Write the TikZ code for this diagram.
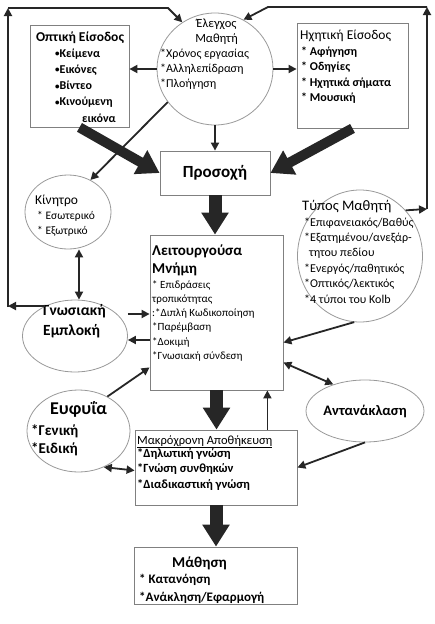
\documentclass[tikz,border=0pt]{standalone}
\usepackage{fontspec}
\setmainfont{Carlito}
\usetikzlibrary{arrows.meta,shapes.geometric}
\newcommand{\setsize}[2]{\fontsize{#1}{#2}\selectfont}
\newcommand{\dotmark}{{\setsize{9}{9}\raisebox{0.5pt}{•}}}

\begin{document}
\begin{tikzpicture}[x=1pt,y=-1pt,
	box/.style={draw=black!50,line width=0.8pt,inner sep=0pt},
	oval/.style={draw=black!40,line width=0.8pt,ellipse,inner sep=0pt},
	txt/.style={anchor=base west,inner sep=0pt,align=left},
	link/.style={-{Triangle[length=8pt,width=8pt]},line width=1.8pt,draw=black!85},
	twoway/.style={{Triangle[length=8pt,width=8pt]}-{Triangle[length=8pt,width=8pt]},line width=1.8pt,draw=black!85},
	fat/.style={-{Triangle[length=22pt,width=26pt]},line width=10pt,draw=black!85}]
	\fill[white] (0,0) rectangle (435,624);
	\useasboundingbox (0,0) rectangle (435,624);

	% shapes
	\node[box,minimum width=99pt,minimum height=102pt] (optic) at (79.5,76) {};
	\node[oval,minimum width=116pt,minimum height=112pt] (ctrl) at (215,69) {};
	\node[box,minimum width=111pt,minimum height=105pt] (audio) at (352.5,75.5) {};
	\node[box,minimum width=110pt,minimum height=44pt,font=\setsize{17}{20}\bfseries] (attn) at (215,173) {Προσοχή};
	\node[oval,minimum width=86pt,minimum height=74pt] (motive) at (68,212) {};
	\node[box,minimum width=133pt,minimum height=155pt] (wm) at (216.5,312.5) {};
	\node[oval,minimum width=125pt,minimum height=132pt] (ltype) at (360,256) {};
	\node[oval,minimum width=105pt,minimum height=72pt] (engage) at (75,336) {};
	\node[oval,minimum width=103pt,minimum height=82pt] (intel) at (78.5,431) {};
	\node[oval,minimum width=106pt,minimum height=62pt,font=\setsize{14.5}{17}\bfseries] (reflect) at (365,411) {Αντανάκλαση};
	\node[box,minimum width=162pt,minimum height=75pt] (ltm) at (216,467.5) {};
	\node[box,minimum width=163pt,minimum height=57pt] (learn) at (215.5,575.5) {};

	% texts (anchored at the baseline of their last line)
	\node[anchor=base,inner sep=0pt,font=\setsize{13.5}{16}\bfseries] (optictitle) at (80,41.5) {Οπτική Είσοδος};
	\node[txt,font=\setsize{12}{16.25}\bfseries] (opticlist) at (55,122) {\dotmark Κείμενα\\\dotmark Εικόνες\\\dotmark Βίντεο\\\dotmark Κινούμενη\\\hspace*{27pt}εικόνα};
	\node[anchor=base,inner sep=0pt,align=center,font=\setsize{12.5}{15}] (ctrltitle) at (216.5,42) {Έλεγχος\\Μαθητή};
	\node[txt,font=\setsize{12}{15}] (ctrllist) at (160,87) {*Χρόνος εργασίας\\*Αλληλεπίδραση\\*Πλοήγηση};
	\node[txt,font=\setsize{13.5}{16}] (audiotitle) at (300,39.5) {Ηχητική Είσοδος};
	\node[txt,font=\setsize{12}{15.5}\bfseries] (audiolist) at (301,101.5) {* Αφήγηση\\* Οδηγίες\\* Ηχητικά σήματα\\* Μουσική};
	\node[txt,font=\setsize{13.5}{15}] (motivetitle) at (35,204) {Κίνητρο};
	\node[txt,font=\setsize{11.5}{15}] (motivelist) at (37,234) {* Εσωτερικό\\* Εξωτρικό};
	\node[txt,font=\setsize{15}{18}\bfseries] (wmtitle) at (152,273) {Λειτουργούσα\\Μνήμη};
	\node[txt,font=\setsize{11}{14.3}] (wmlist) at (152,359.5) {* Επιδράσεις\\τροπικότητας\\:*Διπλή Κωδικοποίηση\\*Παρέμβαση\\*Δοκιμή\\*Γνωσιακή σύνδεση};
	\node[txt,font=\setsize{14.5}{17}] (ltypetitle) at (302,210) {Τύπος Μαθητή};
	\node[txt,font=\setsize{12}{15.4}] (ltypelist) at (304,303) {*Επιφανειακός/Βαθύς\\*Εξατημένου/ανεξάρ-\\\hspace*{5pt}τητου πεδίου\\*Ενεργός/παθητικός\\*Οπτικός/λεκτικός\\*4 τύποι του Kolb};
	\node[txt,font=\setsize{15.5}{20}\bfseries] (engagetitle) at (43,335) {Γνωσιακή\\Εμπλοκή};
	\node[txt,font=\setsize{18}{20}\bfseries] (inteltitle) at (50,414) {Ευφυΐα};
	\node[txt,font=\setsize{15}{18}\bfseries] (intellist) at (31,453) {*Γενική\\*Ειδική};
	\node[txt,font=\setsize{12.5}{15}] (ltmtitle) at (137,444) {\underline{Μακρόχρονη Αποθήκευση}};
	\node[txt,font=\setsize{12.5}{15.5}\bfseries] (ltmlist) at (137,488) {*Δηλωτική γνώση\\*Γνώση συνθηκών\\*Διαδικαστική γνώση};
	\node[txt,font=\setsize{15}{18}\bfseries] (learntitle) at (172,567) {Μάθηση};
	\node[txt,font=\setsize{13}{18}\bfseries] (learnlist) at (139,601) {* Κατανόηση\\*Ανάκληση/Εφαρμογή};

	% corners of the outer loops
	\coordinate (lb) at (8,307);
	\coordinate (lt) at (8,8);
	\coordinate (lk) at (168,8);
	\coordinate (rb) at (427,209);
	\coordinate (rt) at (427,7);
	\coordinate (rk) at (268,7);

	% thick arrows
	\draw[fat] (optic.south) -- (attn.west);
	\draw[fat] (audio.south) -- (attn.east);
	\draw[fat,line width=13pt] (attn.south) -- (attn.south |- wm.north);
	\draw[fat,line width=13pt] (wm.south) -- (wm.south |- ltm.north);
	\draw[fat,line width=13pt] (ltm.south) -- (ltm.south |- learn.north);

	% thin arrows
	\draw[link] (ctrl.west) -- (ctrl.west -| optic.east);
	\draw[link] (ctrl.east) -- (ctrl.east -| audio.west);
	\draw[link] (ctrl.south) -- (attn.north);
	\draw[link] (ctrl.215) -- (motive.55);
	\draw[twoway] ([xshift=11pt]motive.south) -- ([xshift=4pt]engage.north);
	\draw[link] (engage.135) -- (engage.135 -| lb);
	\draw[link] (lb) -- (lt);
	\draw[link] (lt) -- (lk) -- (ctrl.125);
	\draw[link] (ltype.45) -- (rb);
	\draw[link] (rb) -- (rt);
	\draw[link] (rt) -- (rk) -- (ctrl.60);
	\draw[link] ([yshift=22pt]engage.east) -- ([yshift=22pt]engage.east -| wm.west);
	\draw[link] ([yshift=-4pt]engage.east -| wm.west) -- ([yshift=-4pt]engage.east);
	\draw[link] (intel.50) -- ([yshift=23pt]wm.south west);
	\draw[twoway] (intel.-55) -- ([yshift=-3pt]ltm.west);
	\draw[link] (ltype.-95) -- ([yshift=-30pt]wm.east);
	\draw[twoway] ([yshift=-50pt]wm.east) -- (reflect.140);
	\draw[link] ([xshift=-30pt]ltm.north east) -- ([xshift=-30pt]ltm.north east |- wm.south);
	\draw[link] (reflect.south) -- (ltm.east);
\end{tikzpicture}
\end{document}
